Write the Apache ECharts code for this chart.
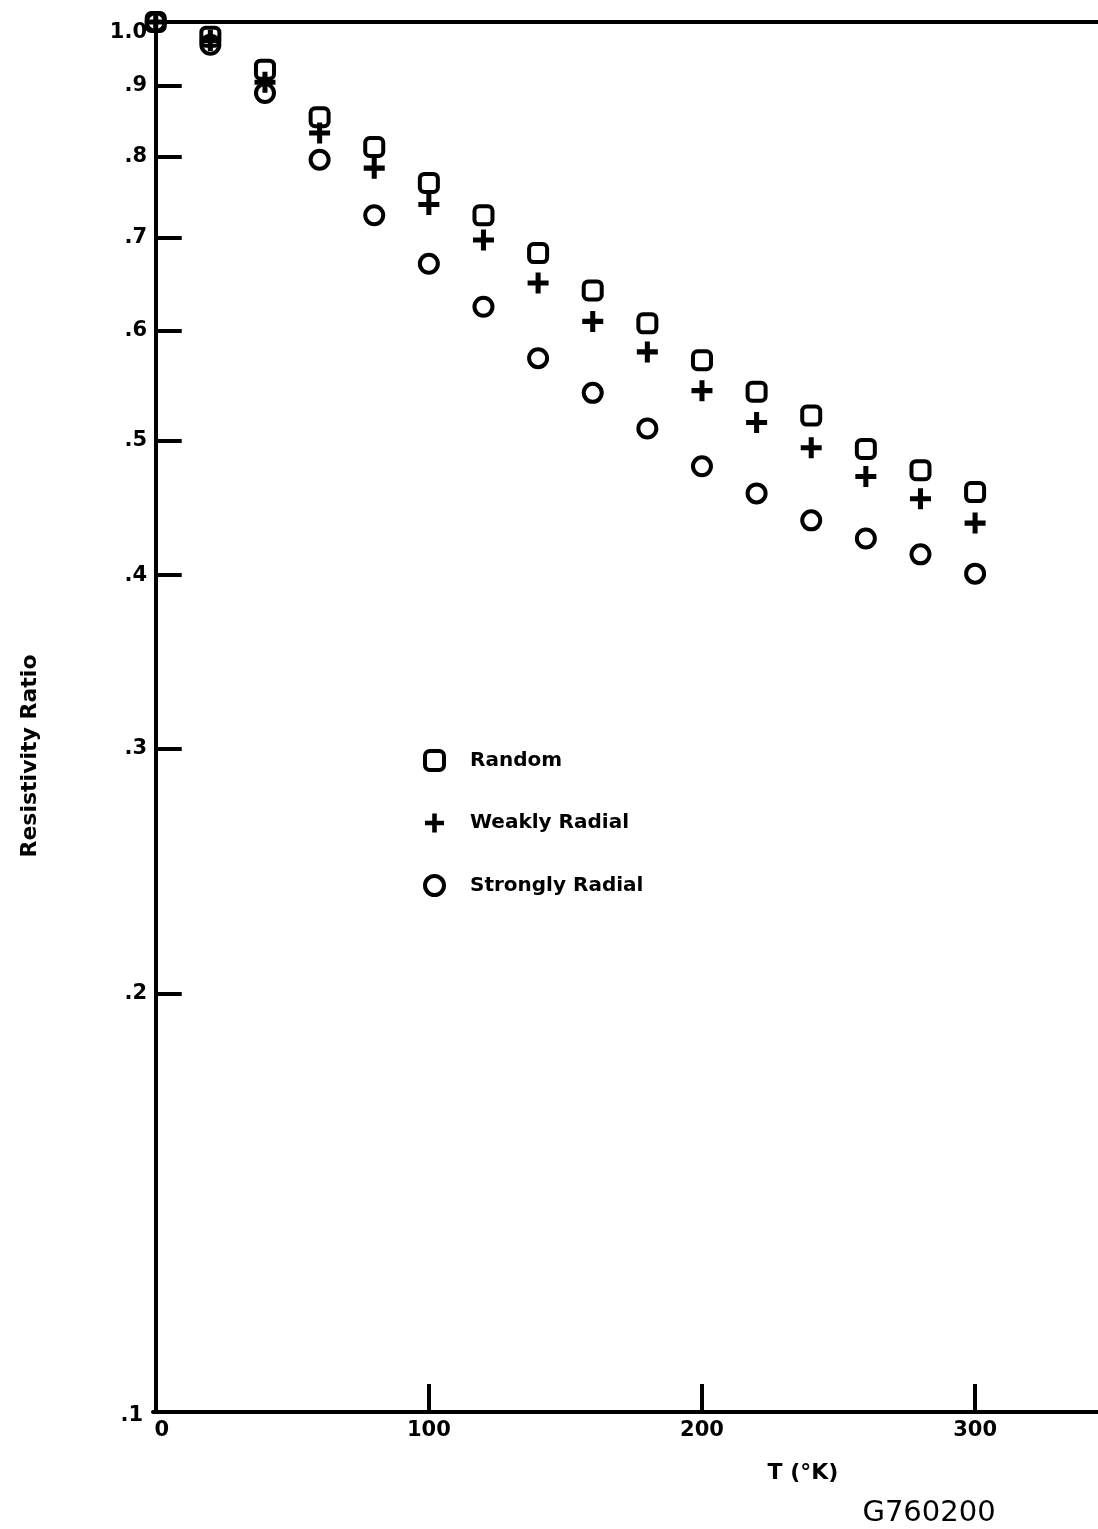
<!DOCTYPE html>
<html>
<head>
<meta charset="utf-8">
<title>Resistivity Ratio vs Temperature</title>
<script src="https://cdn.jsdelivr.net/npm/echarts@6/dist/echarts.min.js"></script>
<style>
  html, body { margin: 0; padding: 0; background: #fff; }
  #chart { width: 1098px; height: 1529px; }
</style>
</head>
<body>
<div id="chart"></div>
<script>
// Temperature (K) at which each sample was measured
const temperatures = [0, 20, 40, 60, 80, 100, 120, 140, 160, 180, 200, 220, 240, 260, 280, 300];

// Resistivity ratio for each grain orientation
const randomRatio = [1.0, 0.976, 0.924, 0.854, 0.813, 0.766, 0.726, 0.682, 0.641, 0.607, 0.571, 0.542, 0.521, 0.493, 0.476, 0.459];
const weaklyRadialRatio = [1.0, 0.970, 0.905, 0.832, 0.785, 0.739, 0.697, 0.649, 0.609, 0.579, 0.543, 0.515, 0.494, 0.471, 0.454, 0.436];
const stronglyRadialRatio = [1.0, 0.963, 0.889, 0.796, 0.726, 0.670, 0.624, 0.573, 0.541, 0.510, 0.479, 0.458, 0.438, 0.425, 0.414, 0.401];

// Axis ticks
const yTickValues = [0.1, 0.2, 0.3, 0.4, 0.5, 0.6, 0.7, 0.8, 0.9, 1.0];
const yTickMarks = [0.2, 0.3, 0.4, 0.5, 0.6, 0.7, 0.8, 0.9];
const xTickLabels = [0, 100, 200, 300];
const xTickMarks = [100, 200, 300];

const pair = (ys) => temperatures.map((t, i) => [t, ys[i]]);

const FONT = '"DejaVu Sans", sans-serif';
const PLUS = 'path://M0,7.6H7.6V0H12.4V7.6H20V12.4H12.4V20H7.6V12.4H0Z';

const hollow = { color: 'rgba(0,0,0,0)', borderColor: '#000', borderWidth: 4, opacity: 1 };
const labelFont = { fontFamily: FONT, fontWeight: 'bold', fontSize: 21, color: '#000' };

const chart = echarts.init(document.getElementById('chart'), null, { renderer: 'canvas' });

chart.setOption({
  animation: false,
  backgroundColor: '#fff',
  grid: { left: 153, right: 0, top: 22, bottom: 117, containLabel: false },
  xAxis: [
    {
      type: 'value',
      min: -1,
      max: 345,
      axisLine: { onZero: false, lineStyle: { color: '#000', width: 4 } },
      axisTick: { show: true, inside: true, length: 28, customValues: xTickMarks, lineStyle: { color: '#000', width: 4 } },
      axisLabel: Object.assign({
        customValues: xTickLabels,
        margin: 8,
        formatter: (v) => (v === 0 ? '{z|0}' : String(v)),
        rich: { z: Object.assign({ padding: [0, 0, 0, 12] }, labelFont) }
      }, labelFont),
      splitLine: { show: false }
    },
    {
      type: 'value',
      position: 'top',
      min: -1,
      max: 345,
      axisLine: { onZero: false, lineStyle: { color: '#000', width: 4 } },
      axisTick: { show: false },
      axisLabel: { show: false },
      splitLine: { show: false }
    }
  ],
  yAxis: {
    type: 'log',
    logBase: 10,
    min: 0.1,
    max: 1.0,
    axisLine: { show: true, lineStyle: { color: '#000', width: 4 } },
    axisTick: { show: true, inside: true, length: 26, customValues: yTickMarks, lineStyle: { color: '#000', width: 4 } },
    axisLabel: Object.assign({
      customValues: yTickValues,
      margin: 6,
      formatter: (v) => {
        if (v >= 0.999) return '{top|1.0}';
        const s = '.' + Math.round(v * 10);
        return v <= 0.101 ? '{bot|' + s + '}' : s;
      },
      rich: {
        top: Object.assign({ padding: [22, 0, 0, 0] }, labelFont),
        bot: Object.assign({ padding: [8, 4, 0, 0] }, labelFont)
      }
    }, labelFont),
    splitLine: { show: false }
  },
  legend: {
    orient: 'vertical',
    left: 418,
    top: 744,
    itemWidth: 19,
    itemHeight: 19,
    itemGap: 41,
    itemStyle: { borderWidth: 4 },
    textStyle: { color: '#000', fontFamily: FONT, fontWeight: 'bold', fontSize: 20, padding: [0, 0, 0, 21] },
    data: ['Random', 'Weakly Radial', 'Strongly Radial']
  },
  series: [
    {
      name: 'Strongly Radial',
      type: 'scatter',
      symbol: 'circle',
      symbolSize: 18,
      itemStyle: hollow,
      data: pair(stronglyRadialRatio),
      z: 2
    },
    {
      name: 'Weakly Radial',
      type: 'scatter',
      symbol: PLUS,
      symbolSize: 21,
      itemStyle: { color: '#000', opacity: 1 },
      data: pair(weaklyRadialRatio),
      z: 3
    },
    {
      name: 'Random',
      type: 'scatter',
      symbol: 'roundRect',
      symbolSize: 18,
      itemStyle: hollow,
      data: pair(randomRatio),
      z: 4
    }
  ],
  graphic: [
    {
      type: 'text',
      x: 30,
      y: 756,
      rotation: Math.PI / 2,
      style: {
        text: 'Resistivity Ratio',
        fill: '#000',
        font: 'bold 22px ' + FONT,
        align: 'center',
        verticalAlign: 'middle'
      }
    },
    {
      type: 'text',
      x: 803,
      y: 1473,
      style: {
        text: 'T (\u00B0K)',
        fill: '#000',
        font: 'bold 22px ' + FONT,
        align: 'center',
        verticalAlign: 'middle'
      }
    },
    {
      type: 'text',
      x: 929,
      y: 1513,
      style: {
        text: 'G760200',
        fill: '#000',
        font: '29px ' + FONT,
        align: 'center',
        verticalAlign: 'middle'
      }
    }
  ]
});
</script>
</body>
</html>
